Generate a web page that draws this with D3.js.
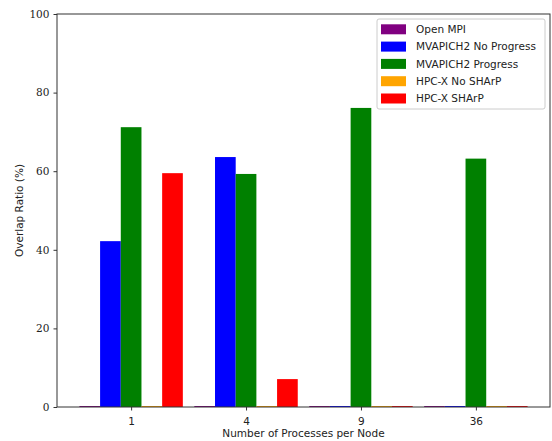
<!DOCTYPE html>
<html>
<head>
<meta charset="utf-8">
<script src="https://cdn.jsdelivr.net/npm/d3@7"></script>
<style>
  body { margin: 0; background: #fff; }
  svg text { fill: #222; }
</style>
</head>
<body>
<svg id="chart" width="552" height="441"></svg>
<script>
// categories and series (overlap ratio, %)
let categories = ["1", "4", "9", "36"];
let seriesNames = ["Open MPI", "MVAPICH2 No Progress", "MVAPICH2 Progress", "HPC-X No SHArP", "HPC-X SHArP"];
let seriesColors = ["purple", "blue", "green", "orange", "red"];
let openMpi      = [0, 0, 0, 0];
let mvNoProgress = [42.2, 63.6, 0, 0];
let mvProgress   = [71.2, 59.3, 76.1, 63.2];
let hpcxNoSharp  = [0, 0, 0, 0];
let hpcxSharp    = [59.5, 7.1, 0, 0];
let yTicks = [0, 20, 40, 60, 80, 100];

let values = [openMpi, mvNoProgress, mvProgress, hpcxNoSharp, hpcxSharp];

let svg = d3.select("#chart");
let m = {left: 57, right: 2, top: 14, bottom: 34};
let W = +svg.attr("width"), H = +svg.attr("height");

let barW = 0.18;
// matplotlib-like auto limits: bars span -0.45..3.45, plus 5% margin
let x = d3.scaleLinear().domain([-0.645, 3.645]).range([m.left, W - m.right]);
let y = d3.scaleLinear().domain([0, 100]).range([H - m.bottom, m.top]);

let g = svg.append("g");

// bars
values.forEach((vals, s) => {
    g.selectAll(".bar" + s)
        .data(vals)
        .enter().append("rect")
        .attr("x", (d, i) => x(i + (s - 2) * barW - barW / 2))
        .attr("width", x(barW) - x(0))
        .attr("y", d => d > 0 ? y(d) : y(0) - 1)
        .attr("height", d => d > 0 ? y(0) - y(d) : 1)
        .attr("fill", seriesColors[s]);
});

// axes
let xAxis = d3.axisBottom(x)
    .tickValues(d3.range(categories.length))
    .tickFormat(i => categories[i])
    .tickSize(3.5).tickSizeOuter(0);
let yAxis = d3.axisLeft(y)
    .tickValues(yTicks)
    .tickSize(3.5).tickSizeOuter(0);

let gx = svg.append("g").attr("transform", `translate(0,${H - m.bottom})`).call(xAxis);
gx.select(".domain").remove();
gx.selectAll("text").attr("font-family", "DejaVu Sans, sans-serif").attr("font-size", 10.5).attr("dy", "1.1em");
gx.selectAll("line").attr("stroke", "#333");

let gy = svg.append("g").attr("transform", `translate(${m.left},0)`).call(yAxis);
gy.select(".domain").remove();
gy.selectAll("text").attr("font-family", "DejaVu Serif, serif").attr("font-size", 10.5).attr("dx", "-0.1em");
gy.selectAll("line").attr("stroke", "#333");

// frame
svg.append("rect")
    .attr("x", m.left).attr("y", m.top)
    .attr("width", W - m.right - m.left).attr("height", H - m.bottom - m.top)
    .attr("fill", "none").attr("stroke", "#333").attr("stroke-width", 1);

// axis labels
svg.append("text")
    .attr("x", (m.left + W - m.right) / 2).attr("y", 437)
    .attr("text-anchor", "middle")
    .attr("font-family", "DejaVu Sans, sans-serif").attr("font-size", 10.5)
    .text("Number of Processes per Node");
svg.append("text")
    .attr("transform", `translate(23,${(m.top + H - m.bottom) / 2}) rotate(-90)`)
    .attr("text-anchor", "middle")
    .attr("font-family", "DejaVu Sans, sans-serif").attr("font-size", 10.5)
    .text("Overlap Ratio (%)");

// legend
let lg = svg.append("g").attr("transform", "translate(377,19)");
lg.append("rect")
    .attr("width", 168).attr("height", 90).attr("rx", 2)
    .attr("fill", "white").attr("fill-opacity", 0.8)
    .attr("stroke", "#ccc");
seriesNames.forEach((name, i) => {
    let row = lg.append("g").attr("transform", `translate(0,${10.3 + i * 17.3})`);
    row.append("rect").attr("x", 4).attr("y", -5).attr("width", 25).attr("height", 10)
        .attr("fill", seriesColors[i]);
    row.append("text").attr("x", 39).attr("y", 0).attr("dy", "0.35em")
        .attr("font-family", "DejaVu Sans, sans-serif").attr("font-size", 10.5)
        .text(name);
});
</script>
</body>
</html>
